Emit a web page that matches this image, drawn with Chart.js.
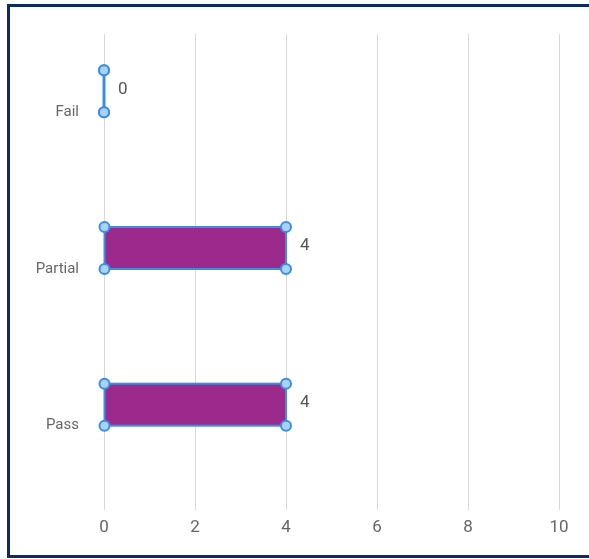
<!DOCTYPE html>
<html>
<head>
<meta charset="utf-8">
<script src="https://cdn.jsdelivr.net/npm/chart.js@4.4.0/dist/chart.umd.min.js"></script>
<style>
  html, body { margin: 0; padding: 0; background: #fff; overflow: hidden; }
  #wrap { position: relative; width: 589px; height: 559px; overflow: hidden; }
  #frame {
    position: absolute; left: 7px; top: 4px; width: 620px; height: 554px;
    box-sizing: border-box; border: 3px solid #0b2a66; border-right: none;
    pointer-events: none;
  }
</style>
</head>
<body>
<div id="wrap">
  <canvas id="chart" width="589" height="559"></canvas>
  <div id="frame"></div>
</div>
<script>
// data
var categories = ['Fail', 'Partial', 'Pass'];
var counts = [0, 4, 4];
var xTicks = [0, 2, 4, 6, 8, 10];

var FONT = 'Roboto, sans-serif';

// selection-style outline, corner handles and value labels
var barExtras = {
    id: 'barExtras',
    afterDatasetsDraw: function(chart) {
        var ctx = chart.ctx;
        var meta = chart.getDatasetMeta(0);
        ctx.save();
        meta.data.forEach(function(bar, i) {
            var left = Math.min(bar.x, bar.base);
            var right = Math.max(bar.x, bar.base);
            var top = bar.y - bar.height / 2;
            var bottom = bar.y + bar.height / 2;

            ctx.strokeStyle = '#3b8ee2';
            ctx.lineWidth = right - left < 1 ? 3 : 2;
            ctx.strokeRect(left, top, right - left, bottom - top);

            [[left, top], [right, top], [left, bottom], [right, bottom]].forEach(function(p) {
                ctx.beginPath();
                ctx.arc(p[0], p[1], 5, 0, Math.PI * 2);
                ctx.fillStyle = '#a9d2f7';
                ctx.fill();
                ctx.lineWidth = 2;
                ctx.strokeStyle = '#3b8ee2';
                ctx.stroke();
            });

            ctx.fillStyle = '#555';
            ctx.font = '17px ' + FONT;
            ctx.textAlign = 'left';
            ctx.textBaseline = 'middle';
            ctx.fillText(String(counts[i]), right + 14, bar.y - 2);
        });
        ctx.restore();
    }
};

var ctx = document.getElementById('chart').getContext('2d');
var myChart = new Chart(ctx, {
    type: 'bar',
    data: {
        labels: categories,
        datasets: [{
            label: 'Count',
            data: counts,
            backgroundColor: '#9c2a8d',
            borderWidth: 0,
            barThickness: 42
        }, {
            label: '',
            data: categories.map(function() { return null; }),
            barThickness: 42
        }]
    },
    options: {
        indexAxis: 'y',
        responsive: false,
        animation: false,
        layout: {
            padding: { top: 31, right: 30, left: 0, bottom: 0 }
        },
        plugins: {
            legend: { display: false },
            tooltip: { enabled: false }
        },
        scales: {
            x: {
                min: 0,
                max: 10,
                afterBuildTicks: function(scale) {
                    scale.ticks = xTicks.map(function(v) { return { value: v }; });
                },
                afterFit: function(scale) { scale.height = 55; },
                grid: { color: '#d8d8d8', lineWidth: 1, tickLength: 6 },
                border: { display: false },
                ticks: {
                    color: '#666',
                    padding: 8,
                    font: { family: FONT, size: 17 }
                }
            },
            y: {
                afterFit: function(scale) { scale.width = 104; },
                grid: { display: false, drawTicks: false },
                border: { display: false },
                ticks: {
                    color: '#666',
                    padding: 25,
                    font: { family: FONT, size: 15 }
                }
            }
        }
    },
    plugins: [barExtras]
});
</script>
</body>
</html>
